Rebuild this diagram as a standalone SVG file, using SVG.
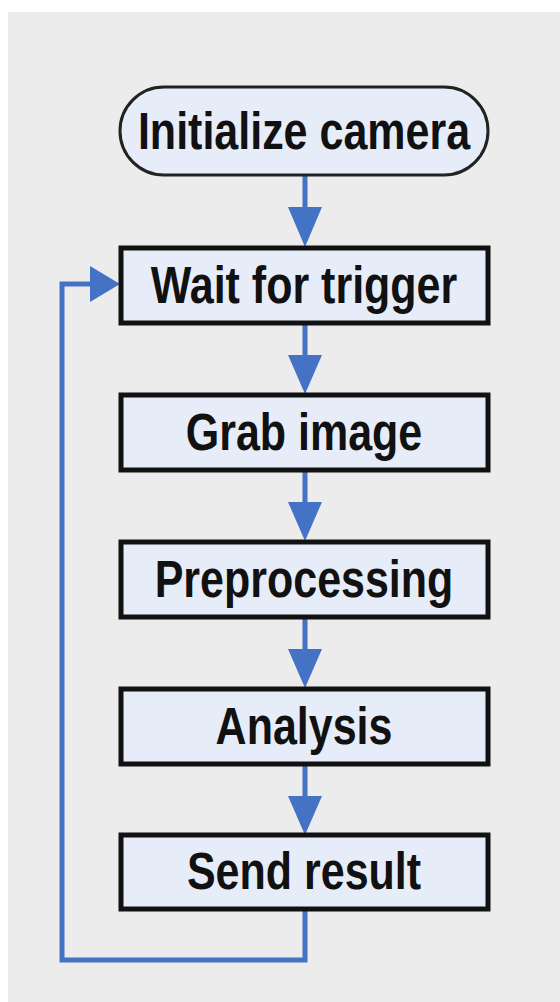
<svg xmlns="http://www.w3.org/2000/svg" width="560" height="1002" viewBox="0 0 560 1002">
<defs>
<style>
.box{fill:#e7edf8;stroke:#111;stroke-width:5}
.pill{fill:#e7edf8;stroke:#222;stroke-width:3}
.lbl{font-family:"Liberation Sans",Arial,sans-serif;font-weight:bold;font-size:43px;fill:#111;text-anchor:middle}
.ln{fill:none;stroke:#4472c4;stroke-width:5}
.hd{fill:#4472c4}
</style>
</defs>
<rect x="0" y="0" width="560" height="1002" fill="#ffffff"/>
<rect x="8" y="12" width="552" height="990" fill="#ececec"/>
<g id="connectors">
<line class="ln" x1="305" y1="176" x2="305" y2="210"/>
<polygon class="hd" points="288,207 322,207 305,247"/>
<line class="ln" x1="305" y1="323" x2="305" y2="358"/>
<polygon class="hd" points="288,355 322,355 305,394"/>
<line class="ln" x1="305" y1="470" x2="305" y2="505"/>
<polygon class="hd" points="288,502 322,502 305,541"/>
<line class="ln" x1="305" y1="617" x2="305" y2="652"/>
<polygon class="hd" points="288,649 322,649 305,688"/>
<line class="ln" x1="305" y1="764" x2="305" y2="799"/>
<polygon class="hd" points="288,796 322,796 305,835"/>
<polyline class="ln" points="305,909 305,960 62,960 62,284 93,284"/>
<polygon class="hd" points="90,266 90,302 120,284"/>
</g>
<g id="n_init">
<rect class="pill" x="120" y="87" width="368" height="88" rx="44" ry="44"/>
<text class="lbl" transform="translate(304,149) scale(1,1.2)">Initialize camera</text>
</g>
<g id="n_wait">
<rect class="box" x="121" y="248" width="367" height="75"/>
<text class="lbl" transform="translate(304,303) scale(1,1.2)">Wait for trigger</text>
</g>
<g id="n_grab">
<rect class="box" x="121" y="395" width="367" height="75"/>
<text class="lbl" transform="translate(304,450) scale(1,1.2)">Grab image</text>
</g>
<g id="n_pre">
<rect class="box" x="121" y="542" width="367" height="75"/>
<text class="lbl" transform="translate(304,597) scale(1,1.2)">Preprocessing</text>
</g>
<g id="n_ana">
<rect class="box" x="121" y="689" width="367" height="75"/>
<text class="lbl" transform="translate(304,744) scale(1,1.2)">Analysis</text>
</g>
<g id="n_send">
<rect class="box" x="121" y="835" width="367" height="74"/>
<text class="lbl" transform="translate(304,889) scale(1,1.2)">Send result</text>
</g>
</svg>
